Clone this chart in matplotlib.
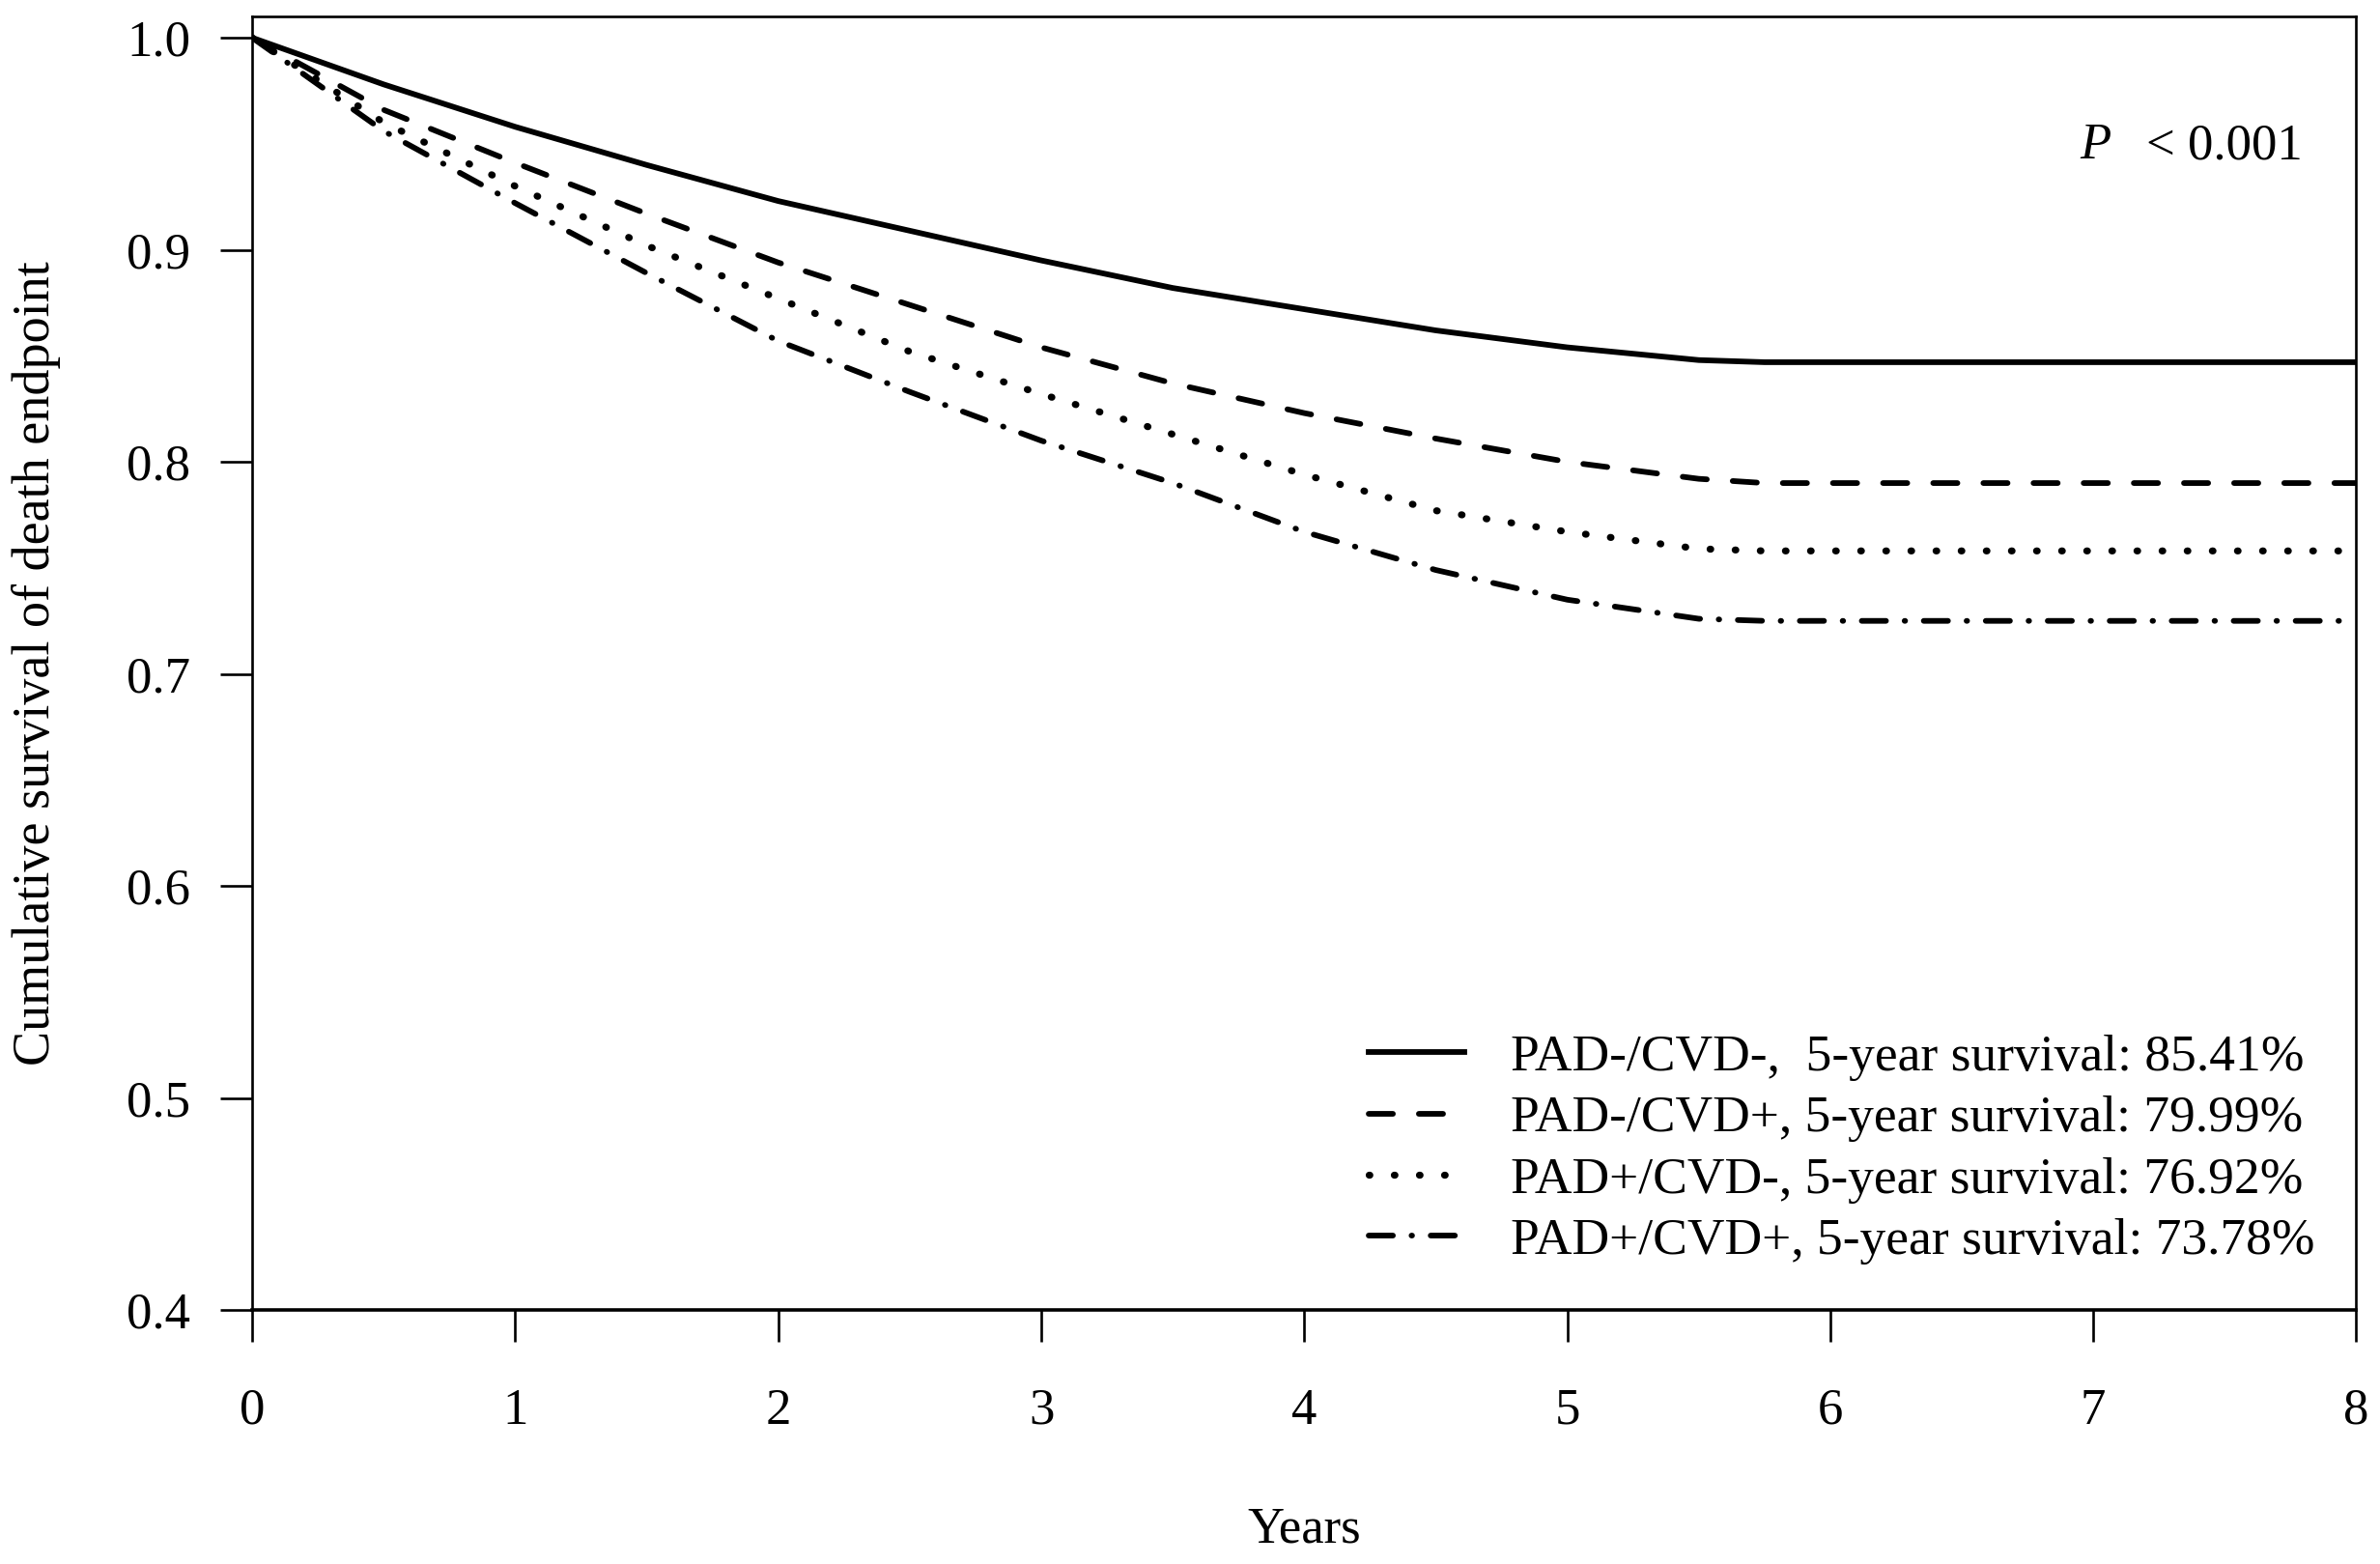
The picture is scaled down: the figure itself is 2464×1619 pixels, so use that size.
import numpy as np
import matplotlib
matplotlib.use("Agg")
import matplotlib.pyplot as plt

plt.rcParams['font.family'] = ['Liberation Serif', 'DejaVu Serif']

# Data
years = [0, 0.5, 1, 1.5, 2, 2.5, 3, 3.5, 4, 4.5, 5, 5.5, 5.75, 8]
pad_neg_cvd_neg = [1.0, 0.978, 0.958, 0.940, 0.923, 0.909, 0.895, 0.882, 0.872, 0.862, 0.854, 0.848, 0.847, 0.847]
pad_neg_cvd_pos = [1.0, 0.966, 0.941, 0.917, 0.894, 0.874, 0.854, 0.837, 0.823, 0.811, 0.800, 0.792, 0.790, 0.790]
pad_pos_cvd_neg = [1.0, 0.960, 0.930, 0.902, 0.877, 0.852, 0.832, 0.813, 0.794, 0.777, 0.767, 0.759, 0.758, 0.758]
pad_pos_cvd_pos = [1.0, 0.956, 0.922, 0.889, 0.857, 0.833, 0.810, 0.790, 0.767, 0.749, 0.735, 0.726, 0.725, 0.725]

labels = ["PAD-/CVD-,  5-year survival: 85.41%",
          "PAD-/CVD+, 5-year survival: 79.99%",
          "PAD+/CVD-, 5-year survival: 76.92%",
          "PAD+/CVD+, 5-year survival: 73.78%"]

fig = plt.figure(figsize=(24.64, 16.19), dpi=100)
ax = fig.add_axes([0.106, 0.1624, 0.884, 0.827])

lw = 4.2
ax.plot(years, pad_neg_cvd_neg, color="black", linewidth=lw, label=labels[0])
ax.plot(years, pad_neg_cvd_pos, color="black", linewidth=lw, label=labels[1],
        dashes=(4.3, 4.6), dash_capstyle='round')
ax.plot(years, pad_pos_cvd_neg, color="black", linewidth=5.2, label=labels[2],
        dashes=(0.1, 3.5), dash_capstyle='round')
ax.plot(years, pad_pos_cvd_pos, color="black", linewidth=lw, label=labels[3],
        dashes=(4.3, 3.3, 0.1, 3.3), dash_capstyle='round')

ax.set_xlim(0, 8)
ax.set_ylim(0.4, 1.01)
ax.set_xticks(range(0, 9))
ax.set_yticks([0.4, 0.5, 0.6, 0.7, 0.8, 0.9, 1.0])
ax.set_yticklabels(["0.4", "0.5", "0.6", "0.7", "0.8", "0.9", "1.0"])

for s in ax.spines.values():
    s.set_linewidth(1.9)
ax.spines['bottom'].set_linewidth(2.6)

ax.tick_params(axis='both', direction='out', length=24, width=1.9, labelsize=38)
ax.tick_params(axis='y', pad=22)
ax.tick_params(axis='x', pad=34)

ax.set_xlabel("Years", fontsize=38)
ax.set_ylabel("Cumulative survival of death endpoint", fontsize=39)
ax.xaxis.set_label_coords(0.5, -0.152)
ax.yaxis.set_label_coords(-0.091, 0.5)

ax.text(6.95, 0.949, "P", fontsize=38, fontstyle='italic', va='center', ha='left')
ax.text(7.2, 0.949, "< 0.001", fontsize=38, va='center', ha='left')

ax.legend(loc='lower left', bbox_to_anchor=(0.5305, 0.035), frameon=False,
          fontsize=38.5, handlelength=1.85, handletextpad=0.9, labelspacing=0.28,
          borderpad=0, borderaxespad=0)

plt.savefig("out.png", dpi=100)
